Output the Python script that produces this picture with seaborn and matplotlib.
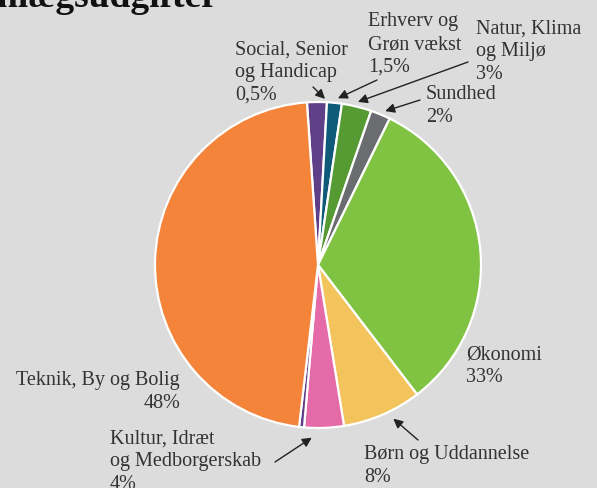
import numpy as np
import matplotlib
matplotlib.use("Agg")
import matplotlib.pyplot as plt
import seaborn as sns

# slices in drawing order, clockwise from the top
categories = ["Social, Senior og Handicap", "Erhverv og Grøn vækst", "Natur, Klima og Miljø",
              "Sundhed", "Økonomi", "Børn og Uddannelse", "Kultur, Idræt og Medborgerskab",
              "Social (rest)", "Teknik, By og Bolig"]
values = [2, 1.5, 3, 2, 33, 8, 4, 0.5, 48]
colors = ["#5f3f87", "#0f5a78", "#569a33", "#6b6c70", "#80c342", "#f2c45b", "#e46ba8",
          "#5f3f87", "#f4843a"]
labels = ["Social, Senior\nog Handicap\n0,5%", "Erhverv og\nGrøn vækst\n1,5%",
          "Natur, Klima\nog Miljø\n3%", "Sundhed\n2%", "Økonomi\n33%",
          "Børn og Uddannelse\n8%", "Kultur, Idræt\nog Medborgerskab\n4%", None,
          "Teknik, By og Bolig\n48%"]

BG = "#dcdcdc"
sns.set_theme(style="white", rc={"figure.facecolor": BG, "axes.facecolor": BG})
plt.rcParams["font.family"] = ["Liberation Serif", "DejaVu Serif"]

W, H = 597, 488
cx, cy, R = 318, 265, 163

fig = plt.figure(figsize=(W / 100, H / 100), dpi=100)
ax = fig.add_axes([(cx - R) / W, (H - cy - R) / H, 2 * R / W, 2 * R / H])
ax.set_axis_off()

wedges, _ = ax.pie(values, colors=sns.color_palette(colors), startangle=93.9,
                   counterclock=False, radius=1,
                   wedgeprops=dict(edgecolor="white", linewidth=1.6))
ax.set_xlim(-1, 1)
ax.set_ylim(-1, 1)


def px(x, y):
    return (x - cx) / R, (cy - y) / R


# label anchor (pixels, baseline of last line), alignment
label_pos = [(235, 100, "left"), (368, 72, "left"), (476, 79, "left"), (426, 122, "left"),
             (466, 382, "left"), (364, 482, "left"), (110, 489, "left"), None,
             (180, 408, "right")]
arrow_tail = [(313, 87), (377, 80), (468, 62), (420, 100), None, (418, 440), (275, 462),
              None, None]
tip_r = [1.02, 1.03, 1.03, 1.03, None, 1.05, 1.06, None, None]
nudge = [2.8, 1.0, 0, 1.0, None, -2.8, 4.2, None, None]

txt_color = "#333333"
for i, w in enumerate(wedges):
    if labels[i] is None:
        continue
    lx, ly, ha = label_pos[i]
    tx, ty = px(lx, ly)
    ax.text(tx, ty, labels[i], ha=ha, va="baseline", fontsize=14.5, color=txt_color,
            linespacing=1.27, multialignment=ha, clip_on=False)
    if arrow_tail[i] is not None:
        ang = np.deg2rad((w.theta1 + w.theta2) / 2 - nudge[i])
        tip = (tip_r[i] * np.cos(ang), tip_r[i] * np.sin(ang))
        ax.annotate("", xy=tip, xytext=px(*arrow_tail[i]),
                    arrowprops=dict(arrowstyle="-|>", color="#222222", lw=1.0,
                                    mutation_scale=14, shrinkA=0, shrinkB=0),
                    annotation_clip=False)

fig.text(218 / W, 1 - 7 / H, "Anlægsudgifter", ha="right", va="baseline",
         fontsize=27, fontweight="bold", color="#111111")

fig.savefig("out.png", dpi=100, facecolor=BG)
